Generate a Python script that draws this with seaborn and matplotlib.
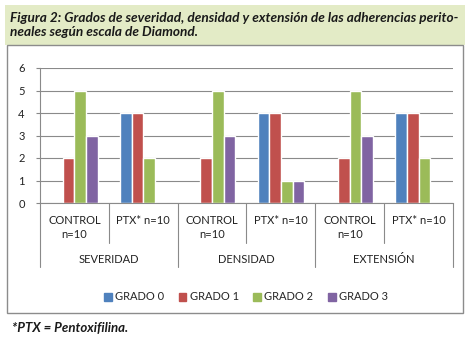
import matplotlib
matplotlib.use("Agg")
import matplotlib.pyplot as plt
import matplotlib.patches as mpatches
import matplotlib.transforms as mtrans
import seaborn as sns
import pandas as pd
import numpy as np

# ---- data ----
groups = ["SEVERIDAD", "DENSIDAD", "EXTENSIÓN"]
subcats = ["CONTROL\nn=10", "PTX* n=10"]
series = ["GRADO 0", "GRADO 1", "GRADO 2", "GRADO 3"]
grado0 = [0, 4, 0, 4, 0, 4]
grado1 = [2, 4, 2, 4, 2, 4]
grado2 = [5, 2, 5, 1, 5, 2]
grado3 = [3, 0, 3, 1, 3, 0]
colors = ["#4f81bd", "#c0504d", "#9bbb59", "#8064a2"]

title = "Figura 2: Grados de severidad, densidad y extensión de las adherencias perito-\nneales según escala de Diamond."
footer = "*PTX = Pentoxifilina."

cats = [f"{g}|{s}" for g in groups for s in subcats]
rows = []
for name, vals in zip(series, [grado0, grado1, grado2, grado3]):
    for c, v in zip(cats, vals):
        rows.append({"cat": c, "serie": name, "valor": v})
df = pd.DataFrame(rows)

sns.set_style("white")
plt.rcParams["font.family"] = ["Lato", "DejaVu Sans"]

W, H = 471, 339
fig = plt.figure(figsize=(W / 100, H / 100), dpi=100)
fig.patch.set_facecolor("white")

# title band
fig.patches.append(mpatches.Rectangle((5 / W, 1 - 45 / H), 460 / W, 40 / H,
                                      transform=fig.transFigure, facecolor="#e3ebc6",
                                      edgecolor="none", zorder=-10))
# chart frame
fig.patches.append(mpatches.Rectangle((7 / W, 1 - 313 / H), 456 / W, 268 / H,
                                      transform=fig.transFigure, facecolor="white",
                                      edgecolor="#8c8c8c", linewidth=1.0, zorder=-10))
fig.text(10 / W, 1 - 25 / H, title, fontsize=9.8, fontweight="bold", style="italic",
         color="#1a1a1a", va="center", ha="left", linespacing=1.25)
fig.text(12 / W, 1 - 328 / H, footer, fontsize=9.5, fontweight="bold", style="italic",
         color="#1a1a1a", va="center", ha="left")

ax = fig.add_axes([40 / W, 1 - 203 / H, 413 / W, 135 / H])
ax.set_zorder(5)
sns.barplot(data=df, x="cat", y="valor", hue="serie", palette=colors, ax=ax,
            width=0.68, saturation=1, legend=False)
ax.set_ylim(0, 6)
ax.set_xlim(-0.5, len(cats) - 0.5)
ax.set_yticks(range(0, 7))
ax.set_yticklabels([str(i) for i in range(0, 7)], fontsize=8, color="#222222")
ax.tick_params(axis="y", length=3, color="#888888", pad=8, left=True)
ax.set_xticks([])
ax.set_xlabel("")
ax.set_ylabel("")
ax.yaxis.grid(True, color="#8a8a8a", linewidth=0.8)
ax.set_axisbelow(True)
for s in ["top", "right"]:
    ax.spines[s].set_visible(False)
for s in ["left", "bottom"]:
    ax.spines[s].set_color("#8a8a8a")
    ax.spines[s].set_linewidth(0.8)

trans = mtrans.blended_transform_factory(ax.transData, ax.transAxes)
# category separators
for i in range(len(cats) + 1):
    x = i - 0.5
    ybot = -0.474 if i % 2 == 0 else -0.296
    ax.plot([x, x], [0, ybot], transform=trans, color="#8a8a8a", lw=0.8, clip_on=False)
# labels
for i, c in enumerate(cats):
    g, s = c.split("|")
    lines = s.split("\n")
    for j, ln in enumerate(lines):
        ax.text(i, -0.126 - 0.111 * j, ln, transform=trans, ha="center", va="center",
                fontsize=8, color="#222222")
for k, g in enumerate(groups):
    ax.text(2 * k + 0.5, -0.415, g, transform=trans, ha="center", va="center",
            fontsize=8, color="#222222")

handles = [mpatches.Patch(color=c, label=n) for c, n in zip(colors, series)]
fig.legend(handles=handles, loc="center", bbox_to_anchor=(246 / W, 1 - 297 / H), ncol=4,
           frameon=False, fontsize=8, handlelength=0.7, handleheight=0.7,
           handletextpad=0.3, columnspacing=1.3)

fig.savefig("out.png", dpi=100)
